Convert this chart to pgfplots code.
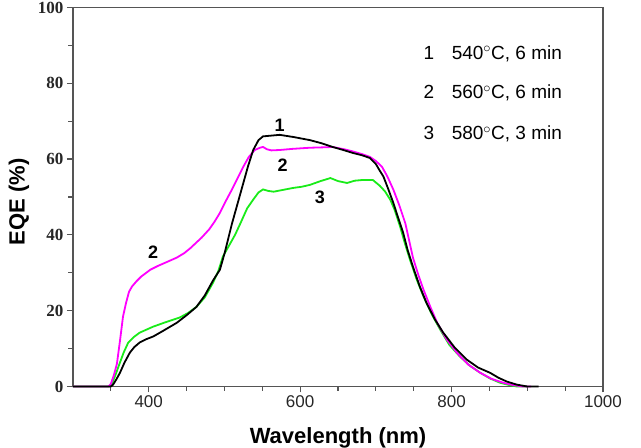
\documentclass[border=0pt]{standalone}
\usepackage{fontspec}
\setmainfont{Liberation Sans}
\newfontfamily\serifb{Liberation Serif}
\usepackage{pgfplots}
\pgfplotsset{compat=1.18}
\definecolor{axgray}{RGB}{85,85,85}
\definecolor{mag}{RGB}{255,0,255}
\definecolor{grn}{RGB}{25,235,25}

\begin{document}
\begin{tikzpicture}
\path[use as bounding box] (-73pt,-61pt) rectangle (568pt,386.5pt);
\begin{axis}[
  at={(0pt,0pt)}, anchor=south west,
  scale only axis, width=530pt, height=379pt,
  xmin=300, xmax=1000, ymin=0, ymax=100,
  axis line style={axgray, line width=1.4pt},
  tick style={axgray, line width=1.2pt},
  major tick length=6pt, minor tick length=4.5pt,
  tick align=outside, xtick pos=bottom, ytick pos=left,
  xtick={400,600,800,1000}, minor xtick={350,450,500,550,650,700,750,850,900,950},
  ytick={0,20,40,60,80,100}, minor ytick={10,30,50,70,90},
  /pgf/number format/assume math mode=true,
  /pgf/number format/1000 sep={},
  xticklabel style={font=\fontsize{17}{17}\selectfont, text=black!85},
  yticklabel style={font=\fontsize{17}{17}\selectfont\serifb\bfseries, text=black!85},
  xlabel={Wavelength (nm)}, ylabel={EQE (\%)},
  label style={font=\fontsize{22}{22}\selectfont\bfseries},
  xlabel style={at={(rel axis cs:0.5,-0.1346)}, anchor=center},
  ylabel style={at={(rel axis cs:-0.1019,0.487)}, anchor=center},
  clip=false,
]
% curve 3 (green)
\addplot[grn, line width=1.8pt] coordinates {
(300,0) (348,0) (351,0.5) (356,3) (362,6.3) (367,9) (373,11.6) (380,13) (388,14.2) (397,15) (406,15.8) (420,16.8) (441,18.2) (452,19.4) (463,21) (474,23.5) (485,27.4) (492,30.5) (498,34.3) (507,37.5) (514,40) (521,43) (530,47) (538,49.3) (545,51.2) (551,52) (558,51.6) (565,51.4) (578,51.9) (591,52.4) (602,52.7) (613,53.2) (627,54.2) (640,55) (650,54.2) (662,53.7) (672,54.3) (683,54.5) (696,54.5) (705,53) (712,51.5) (719,49.3) (725,46.5) (732,42.2) (738,38) (745,33.5) (754,28.2) (763,23.7) (774,19) (785,15) (797,11) (811,7.9) (824,5.5) (838,3.6) (851,2.1) (864,1) (876,0.4) (886,0) (900,0)
};
% curve 2 (magenta)
\addplot[mag, line width=1.8pt] coordinates {
(300,0) (347,0) (350,0.7) (354,3) (358,6) (362,12) (366,18.4) (370,22) (374,25) (378,26.4) (384,27.8) (390,29) (402,30.8) (412,31.8) (420,32.5) (437,34) (447,35.2) (455,36.5) (463,38) (470,39.3) (480,41.5) (487,43.5) (494,45.8) (502,49) (510,52) (518,55.2) (525,58) (532,60.5) (540,62.4) (547,63) (551,63.2) (556,62.6) (562,62.3) (573,62.4) (590,62.7) (613,63) (630,63.1) (643,63.2) (658,62.6) (670,62) (682,61.3) (692,60.6) (700,59.5) (708,58) (715,55.5) (723,52) (731,47.8) (739,43) (744,38.5) (749,34) (756,29.5) (763,25.5) (772,21) (781,16.8) (793,12.6) (807,8.9) (822,5.8) (838,3.6) (853,2) (868,1) (881,0.4) (894,0) (905,0)
};
% curve 1 (black)
\addplot[black, line width=1.8pt] coordinates {
(300,0) (350,0) (353,0.5) (357,1.8) (362,3.6) (368,6.3) (375,8.9) (381,10.4) (388,11.6) (397,12.5) (406,13.2) (420,14.8) (437,16.8) (450,18.8) (463,21) (474,24) (485,28) (494,30.8) (500,35) (505,39) (510,43) (517,48) (524,53) (531,58) (538,62.4) (545,65) (551,66) (562,66.2) (573,66.4) (592,65.8) (613,65) (628,64.2) (643,63.2) (657,62.4) (670,61.6) (682,61) (692,60.3) (700,58.7) (705,57) (710,55.4) (716,52.3) (723,48.5) (729,44.8) (736,40.6) (742,36) (749,31.6) (758,26.4) (767,22) (778,17.7) (789,14.2) (804,10.3) (820,7.1) (835,5) (851,3.6) (862,2.3) (873,1.3) (886,0.5) (900,0) (915,0)
};
% curve labels
\node[font=\fontsize{18}{18}\selectfont\bfseries, inner sep=0pt] at (axis cs:573,69) {1};
\node[font=\fontsize{18}{18}\selectfont\bfseries, inner sep=0pt] at (axis cs:577,58.5) {2};
\node[font=\fontsize{18}{18}\selectfont\bfseries, inner sep=0pt] at (axis cs:626,49.8) {3};
\node[font=\fontsize{18}{18}\selectfont\bfseries, inner sep=0pt] at (axis cs:406,35.3) {2};
% legend text
\node[font=\fontsize{19}{19}\selectfont, inner sep=0pt, anchor=base] at (axis cs:770,86.4) {1};
\node[font=\fontsize{19}{19}\selectfont, inner sep=0pt, anchor=base west] at (axis cs:800,86.4) {540$^{\circ}$C, 6 min};
\node[font=\fontsize{19}{19}\selectfont, inner sep=0pt, anchor=base] at (axis cs:770,75.9) {2};
\node[font=\fontsize{19}{19}\selectfont, inner sep=0pt, anchor=base west] at (axis cs:800,75.9) {560$^{\circ}$C, 6 min};
\node[font=\fontsize{19}{19}\selectfont, inner sep=0pt, anchor=base] at (axis cs:770,65.1) {3};
\node[font=\fontsize{19}{19}\selectfont, inner sep=0pt, anchor=base west] at (axis cs:800,65.1) {580$^{\circ}$C, 3 min};
\end{axis}
\end{tikzpicture}
\end{document}
